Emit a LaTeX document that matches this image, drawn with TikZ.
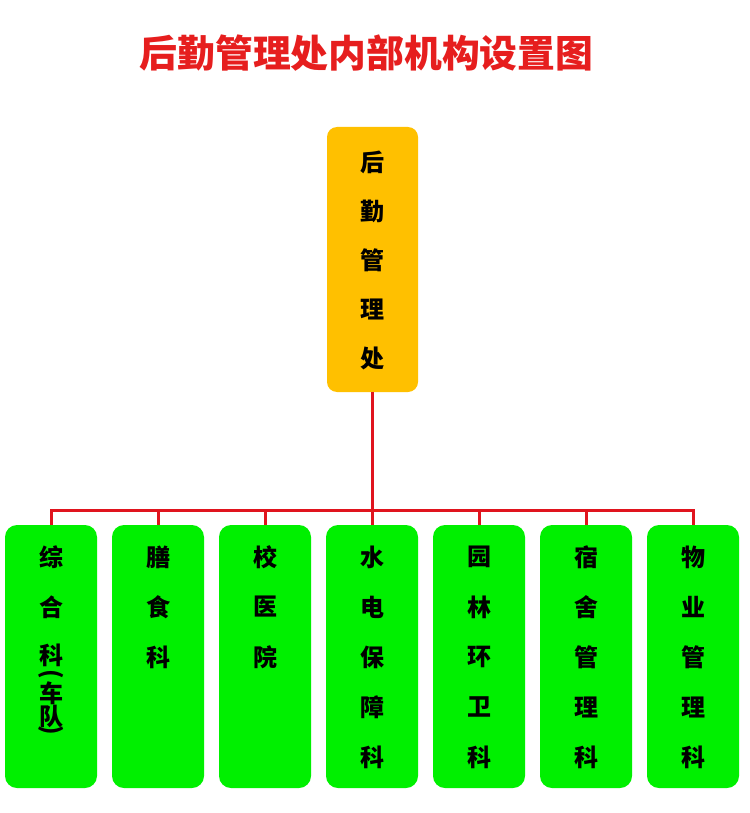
\documentclass[tikz,border=0pt]{standalone}
\usepackage{fontspec}
\newfontfamily\cjk{Noto Sans CJK SC}

\definecolor{boss}{HTML}{FFC000}   % fill of the head office
\definecolor{unit}{HTML}{00F000}   % fill of the sections
\definecolor{wire}{HTML}{E0141E}   % red tree lines
\definecolor{headline}{HTML}{E61E1E}

\begin{document}
\begin{tikzpicture}[x=1pt,y=-1pt]

% Styles for the boxes, the characters and the red lines
\tikzstyle{head}=[fill=boss, rounded corners=10pt, minimum width=91pt, minimum height=265pt, draw=none, inner sep=0pt]
\tikzstyle{office}=[fill=unit, rounded corners=12pt, minimum width=92pt, minimum height=263pt, draw=none, inner sep=0pt]
\tikzstyle{glyph}=[font=\cjk\bfseries\fontsize{24}{24}\selectfont, inner sep=0pt]
\tikzstyle{link}=[draw=wire, line width=3pt]

% Dimensions
\def\pitch{107}    % distance between two sections
\def\xa{51}        % centre of the first section
\def\rowa{507}     % first character row of the sections, minus one step
\def\step{50}      % distance between two character rows

\useasboundingbox (0,0) rectangle (749,813);

% Title
\node [font=\cjk\bfseries\fontsize{37.8}{40}\selectfont, text=headline, inner sep=0pt] (title) at (366.5,53) {后勤管理处内部机构设置图};

% Head office
\node [head] (top) at (372.5,259.5) {};
\foreach \ch [count=\i] in {后,勤,管,理,处}
  \node [glyph] (top\i) at (372,113+49*\i) {\ch};

% The seven sections
\foreach \i in {1,...,7}
  \node [office] (b\i) at ({\xa+\pitch*(\i-1)},656.5) {};

% First section, the bracket is turned to run down the box
\foreach \ch/\y [count=\j] in {综/557, 合/607, 科/655, 车/693, 队/716}
  \node [glyph] (t1\j) at (\xa,\y) {\ch};
\node [glyph, rotate=-90] (open) at (\xa,674) {(};
\node [glyph, rotate=-90] (close) at (\xa,730) {)};

\foreach \i/\chars in {2/{膳,食,科}, 3/{校,医,院}, 4/{水,电,保,障,科}, 5/{园,林,环,卫,科}, 6/{宿,舍,管,理,科}, 7/{物,业,管,理,科}}
  \foreach \ch [count=\j] in \chars
    \node [glyph] (t\i\j) at ({\xa+\pitch*(\i-1)},\rowa+\step*\j) {\ch};

% Red lines from the head office down to every section
\coordinate (bus) at (0,510);
\draw [link] (top.south) -- (top.south |- bus);
\draw [link] (b1.north) -- (b1.north |- bus) -- (b7.north |- bus) -- (b7.north);
\foreach \i in {2,...,6}
  \draw [link] (b\i.north |- bus) -- (b\i.north);

\end{tikzpicture}
\end{document}
